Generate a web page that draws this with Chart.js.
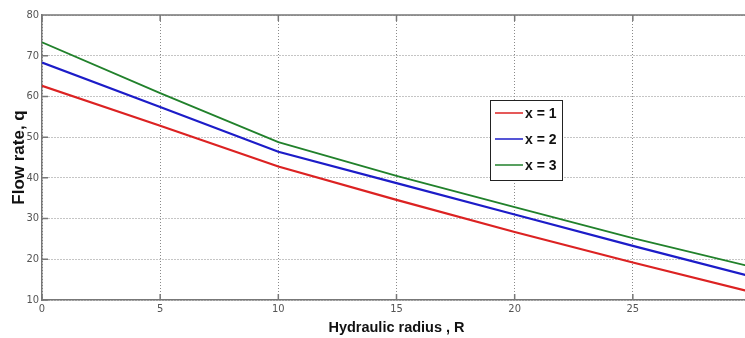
<!DOCTYPE html>
<html>
<head>
<meta charset="utf-8">
<script src="https://cdn.jsdelivr.net/npm/chart.js@4"></script>
<style>
  html, body { margin: 0; padding: 0; background: #fff; overflow: hidden; }
  #wrap { width: 770px; height: 338px; }
</style>
</head>
<body>
<div id="wrap"><canvas id="chart" width="770" height="338"></canvas></div>
<script>
const radius = [0, 5, 10, 15, 20, 25, 30];
const seriesLabels = ['x = 1', 'x = 2', 'x = 3'];
const flowX1 = [62.6, 52.8, 42.8, 34.6, 26.7, 19.2, 12.0];
const flowX2 = [68.3, 57.4, 46.4, 38.7, 31.0, 23.3, 15.8];
const flowX3 = [73.3, 60.8, 48.8, 40.5, 32.8, 25.2, 18.2];
const yTicks = [10, 20, 30, 40, 50, 60, 70, 80];
const xTicks = [0, 5, 10, 15, 20, 25, 30];

const colors = ['#dc2222', '#1c1cc8', '#21812b'];
const widths = [2.2, 2.2, 1.8];

const toPoints = (vals) => vals.map((v, i) => ({ x: radius[i], y: v }));

// legenda w ramce wewnątrz wykresu (jak w MATLAB)
const boxLegend = {
    id: 'boxLegend',
    afterDraw(chart) {
        const ctx = chart.ctx;
        const left = 490, top = 100, w = 72, h = 80;
        ctx.save();
        ctx.fillStyle = '#fff';
        ctx.fillRect(left, top, w, h);
        ctx.strokeStyle = '#222';
        ctx.lineWidth = 1;
        ctx.strokeRect(left + 0.5, top + 0.5, w, h);
        ctx.font = "bold 14px 'Liberation Sans', sans-serif";
        ctx.textBaseline = 'middle';
        chart.data.datasets.forEach((ds, i) => {
            const y = top + 13 + i * 26;
            ctx.strokeStyle = ds.borderColor;
            ctx.lineWidth = 1.5;
            ctx.beginPath();
            ctx.moveTo(left + 5, y);
            ctx.lineTo(left + 33, y);
            ctx.stroke();
            ctx.fillStyle = '#111';
            ctx.fillText(ds.label, left + 35, y + 1);
        });
        ctx.restore();
    }
};

// górna ramka i krótkie kreski podziałki do środka
const frame = {
    id: 'frame',
    beforeDatasetsDraw(chart) {
        const { ctx, chartArea: a, scales } = chart;
        ctx.save();
        ctx.strokeStyle = '#777';
        ctx.lineWidth = 1.5;
        ctx.beginPath();
        ctx.moveTo(a.left, a.top);
        ctx.lineTo(a.right, a.top);
        xTicks.forEach(v => {
            const px = scales.x.getPixelForValue(v);
            ctx.moveTo(px, a.bottom);
            ctx.lineTo(px, a.bottom - 6);
            ctx.moveTo(px, a.top);
            ctx.lineTo(px, a.top + 6);
        });
        yTicks.forEach(v => {
            const py = scales.y.getPixelForValue(v);
            ctx.moveTo(a.left, py);
            ctx.lineTo(a.left + 6, py);
        });
        ctx.stroke();
        ctx.restore();
    }
};

const tickFont = { family: "'Liberation Sans Narrow', 'DejaVu Sans Condensed', sans-serif", size: 11 };

const ctx = document.getElementById('chart').getContext('2d');
new Chart(ctx, {
    type: 'line',
    data: {
        datasets: [flowX1, flowX2, flowX3].map((vals, i) => ({
            label: seriesLabels[i],
            data: toPoints(vals),
            borderColor: colors[i],
            backgroundColor: colors[i],
            borderWidth: widths[i],
            pointRadius: 0,
            tension: 0,
            fill: false
        }))
    },
    options: {
        responsive: false,
        animation: false,
        layout: { padding: { top: 15, right: 19, left: 0, bottom: 0 } },
        plugins: {
            legend: { display: false },
            tooltip: { enabled: false }
        },
        scales: {
            x: {
                type: 'linear',
                min: 0,
                max: 30,
                afterBuildTicks: (scale) => { scale.ticks = xTicks.map(v => ({ value: v })); },
                afterFit: (scale) => { scale.height = 38; },
                ticks: { color: '#555', font: tickFont, padding: 3, maxRotation: 0 },
                grid: { color: '#8a8a8a', lineWidth: 1, drawTicks: false },
                border: { display: true, color: '#777', width: 1.5, dash: [1, 2] },
                title: {
                    display: true,
                    text: 'Hydraulic radius , R',
                    color: '#111',
                    font: { family: "'Liberation Sans', sans-serif", size: 14.5, weight: 'bold' },
                    padding: { top: 0, bottom: 1 }
                }
            },
            y: {
                min: 10,
                max: 80,
                afterBuildTicks: (scale) => { scale.ticks = yTicks.map(v => ({ value: v })); },
                afterFit: (scale) => { scale.width = 42; },
                ticks: { color: '#555', font: tickFont, padding: 3 },
                grid: { color: '#8a8a8a', lineWidth: 1, drawTicks: false },
                border: { display: true, color: '#777', width: 1.5, dash: [1, 2] },
                title: {
                    display: true,
                    text: 'Flow rate, q',
                    color: '#111',
                    font: { family: "'Liberation Sans', sans-serif", size: 17, weight: 'bold' },
                    padding: { top: 9, bottom: 0 }
                }
            }
        }
    },
    plugins: [boxLegend, frame]
});
</script>
</body>
</html>
